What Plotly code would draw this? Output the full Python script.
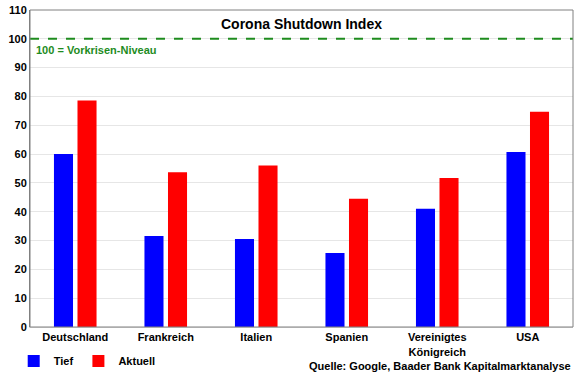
import plotly.graph_objects as go

categories = ["Deutschland", "Frankreich", "Italien", "Spanien", "Vereinigtes<br>Königreich", "USA"]
tief = [60.0, 31.6, 30.5, 25.7, 41.0, 60.7]
aktuell = [78.6, 53.7, 56.0, 44.5, 51.7, 74.7]
y_ticks = list(range(0, 111, 10))
baseline = 100

FONT = "Liberation Sans, Arial, sans-serif"

fig = go.Figure()
fig.add_trace(go.Bar(name="Tief", x=categories, y=tief, marker_color="#0000FF", marker_line_width=0))
fig.add_trace(go.Bar(name="Aktuell", x=categories, y=aktuell, marker_color="#FF0000", marker_line_width=0))

fig.add_shape(type="line", xref="paper", x0=0, x1=1, yref="y", y0=baseline, y1=baseline,
              line=dict(color="#1E8C1E", width=2, dash="dash"))

fig.add_annotation(text="<b>100 = Vorkrisen-Niveau</b>", xref="paper", x=0.008, xanchor="left",
                   yref="y", y=96.0, yanchor="middle", showarrow=False,
                   font=dict(family=FONT, size=11, color="#1E8C1E"))
fig.add_annotation(text="<b>Corona Shutdown Index</b>", xref="paper", x=0.5, xanchor="center",
                   yref="paper", y=0.956, yanchor="middle", showarrow=False,
                   font=dict(family=FONT, size=14, color="#000000"))
fig.add_annotation(text="<b>Quelle: Google, Baader Bank Kapitalmarktanalyse</b>", xref="paper", x=1.0,
                   xanchor="right", yref="paper", y=-0.123, yanchor="middle", showarrow=False,
                   font=dict(family=FONT, size=11, color="#000000"))

fig.update_layout(
    width=580, height=375,
    margin=dict(l=30, r=7, t=10, b=48, autoexpand=False),
    paper_bgcolor="white", plot_bgcolor="white",
    barmode="group", bargap=0.48, bargroupgap=0.19,
    font=dict(family=FONT, size=11, color="#000000"),
    showlegend=True,
    legend=dict(orientation="h", x=-0.03, xanchor="left", y=-0.107, yanchor="middle",
                font=dict(family=FONT, size=11, color="#000000", weight="bold"),
                itemwidth=30, tracegroupgap=0, bgcolor="rgba(0,0,0,0)"),
    xaxis=dict(showgrid=False, showline=True, linecolor="#D9D9D9", linewidth=1, mirror=False,
               automargin=False,
               tickfont=dict(family=FONT, size=11, color="#000000", weight="bold"), ticks=""),
    yaxis=dict(range=[0, 110], tickvals=y_ticks, showgrid=True, gridcolor="#E6E6E6", gridwidth=1,
               showline=True, linecolor="#808080", linewidth=1, ticks="", zeroline=False,
               automargin=False,
               tickfont=dict(family=FONT, size=11, color="#000000", weight="bold")),
)

# outer frame (top and right)
fig.add_shape(type="rect", xref="paper", yref="paper", x0=0, x1=1, y0=0, y1=1,
              line=dict(color="#808080", width=1), layer="above")

fig.write_html("out.html", config={"displayModeBar": False},
               post_script="document.body.style.margin='0';")
